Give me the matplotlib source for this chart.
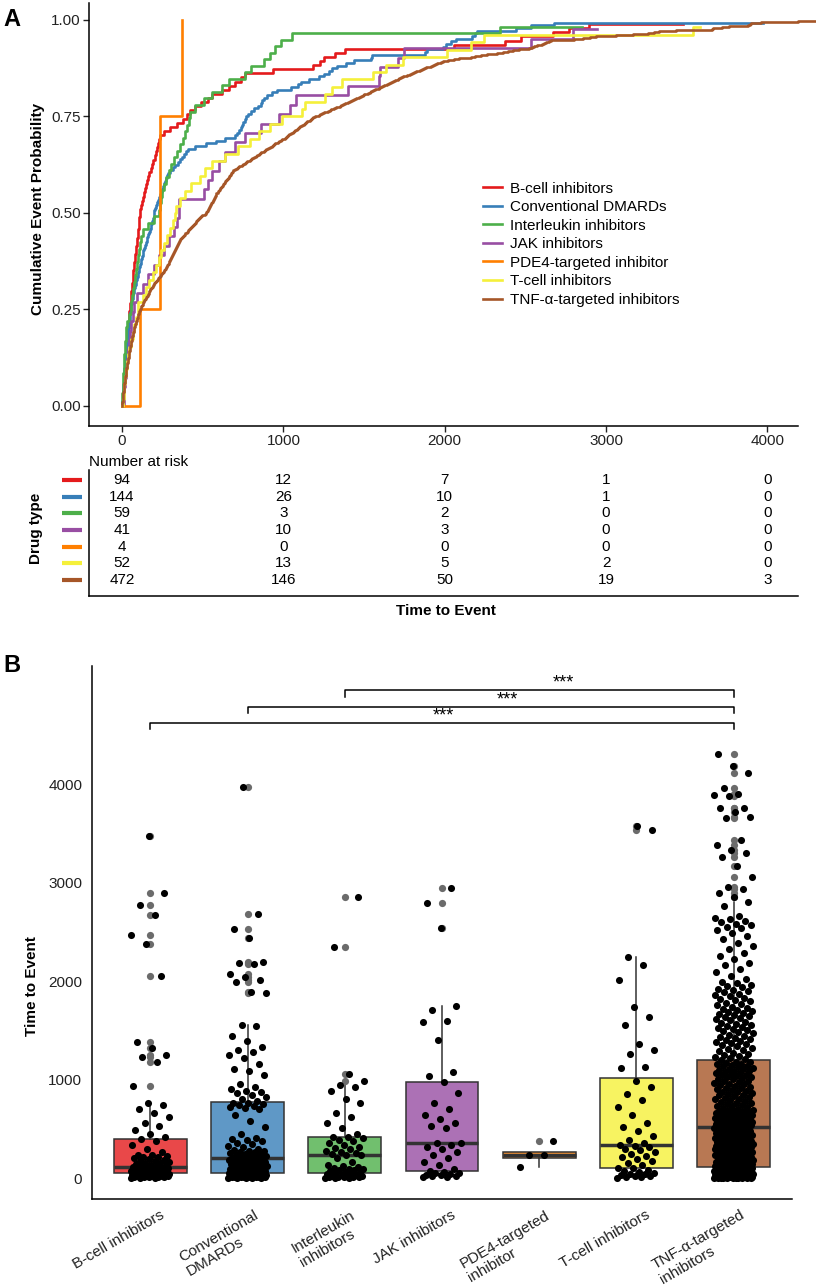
import numpy as np
import matplotlib
matplotlib.use("Agg")
import matplotlib.pyplot as plt
from matplotlib.colors import to_rgba
from matplotlib.transforms import ScaledTranslation, blended_transform_factory

plt.rcParams['font.family'] = ['Liberation Sans', 'DejaVu Sans']

# ---- data ---------------------------------------------------------------
groups = ['B-cell inhibitors', 'Conventional DMARDs', 'Interleukin inhibitors',
          'JAK inhibitors', 'PDE4-targeted inhibitor', 'T-cell inhibitors',
          'TNF-\u03b1-targeted inhibitors']
box_labels = ['B-cell inhibitors', 'Conventional\nDMARDs', 'Interleukin\ninhibitors',
              'JAK inhibitors', 'PDE4-targeted\ninhibitor', 'T-cell inhibitors',
              'TNF-\u03b1-targeted\ninhibitors']
colors = ['#E41A1C', '#377EB8', '#4DAF4A', '#984EA3', '#FF7F00', '#F5F03A', '#A65628']
risk_times = [0, 1000, 2000, 3000, 4000]
last_censored = [True, True, True, True, False, True, True]

bcell = [2, 4, 5, 8, 10, 12, 14, 15, 18, 20, 22, 24, 26, 27, 30, 32, 34, 36, 38, 40,
         42, 44, 46, 48, 50, 53, 55, 58, 60, 63, 66, 68, 70, 73, 76, 79, 82, 85, 88, 90,
         93, 96, 99, 102, 105, 107, 110, 112, 118, 124, 130, 136, 142, 148, 155, 162,
         170, 178, 186, 194, 202, 210, 218, 225, 232, 238, 260, 300, 340, 380,
         400, 420, 450, 490, 530, 560, 620, 660, 700, 740, 760, 936,
         1183, 1225, 1250, 1320, 1385, 2055, 2375, 2470, 2670, 2770, 2895, 3480]

conventional = [1, 2, 3, 4, 5, 6, 7, 8, 9, 10, 12, 13, 14, 15, 17, 18, 20, 21, 23, 24,
                26, 27, 29, 30, 32, 34, 35, 37, 39, 41, 43, 45, 47, 49, 51, 53,
                55, 58, 61, 64, 67, 70, 73, 76, 80, 84, 88, 92, 96, 100, 104, 108, 112,
                116, 120, 124, 128, 132, 137, 142, 147, 152, 157, 162, 167, 172, 177,
                182, 187, 192, 196, 199,
                201, 206, 212, 218, 224, 230, 236, 242, 248, 254, 260, 266, 272, 278, 285,
                300, 315, 330, 345, 360, 372, 385, 398, 410, 450, 520, 580, 640, 700,
                715, 725, 735, 745, 752, 760, 766,
                780, 800, 820, 845, 860, 870, 880, 900, 930, 960,
                1050, 1090, 1110, 1160, 1220, 1250, 1280, 1300, 1330, 1390, 1440, 1545, 1550,
                1880, 1890, 1990,
                2010, 2040, 2070, 2170, 2190, 2200, 2440, 2535, 2680, 3970]

interleukin = [1, 2, 4, 6, 8, 10, 12, 14, 17, 20, 23, 26, 29, 45, 54,
               58, 62, 66, 72, 78, 84, 90, 96, 104, 112, 120, 128, 160, 200, 231,
               235, 240, 250, 262, 275, 290, 305, 320, 340, 360, 375, 390, 405, 412,
               420, 450, 510, 560, 620, 660, 760, 800, 880, 920, 950,
               985, 1056, 2343, 2852]

jak = [10, 15, 20, 25, 30, 35, 40, 50, 55, 65, 75,
       95, 130, 160, 200, 230, 260, 290, 320, 340, 353,
       355, 510, 530, 560, 600, 640, 700, 760, 860, 973,
       1040, 1080, 1400, 1590, 1600, 1709, 1750,
       2537, 2797, 2944]

pde4 = [112, 235, 235, 372]

tcell = [5, 10, 15, 20, 25, 30, 38, 45, 55, 65, 75, 86, 97,
         100, 130, 150, 170, 190, 210, 228, 240, 260, 280, 300, 315, 328,
         335, 360, 390, 430, 480, 515, 560, 640, 720, 794, 850, 920, 990,
         1115, 1132, 1261, 1302, 1363, 1556, 1636, 1743,
         2014, 2165, 2241, 3540, 3580]

tnf = [0, 1, 1, 2, 2, 3, 3, 4, 4, 5, 5, 6, 6, 7, 7, 8, 8, 9, 10, 10,
       11, 11, 12, 13, 13, 14, 14, 15, 16, 16, 17, 18, 18, 19, 20, 20, 21, 22, 22, 23,
       24, 24, 25, 26, 27, 27, 28,
       29, 30, 31, 32, 32, 33, 34, 35, 36, 37, 38, 39, 40, 40, 41, 42, 43, 44, 45, 46,
       47, 48, 49, 50, 51, 52, 53, 54, 55, 56, 57, 58, 59, 60, 61, 62, 63, 64, 65, 66,
       67, 68, 69,
       70, 71, 73, 74, 76, 77, 79, 80, 82, 83, 85, 86, 88, 89, 91, 92, 94, 95, 97, 98,
       100, 101, 103, 104, 106, 107, 109, 110,
       112, 115, 117, 120, 122, 125, 127, 130, 132, 135, 138, 140, 143, 146, 149, 152,
       155, 158, 161, 164, 166, 168, 170, 172,
       175, 179, 183, 186, 190, 194, 197, 201, 205, 208, 212, 216, 220, 223, 227, 231,
       235, 239, 243, 247, 251, 255, 259, 263, 266, 269, 272, 275,
       278, 280, 283, 285, 288, 290, 293, 295, 298, 300, 303, 305, 308, 310, 313, 315,
       318, 320, 323, 325, 328, 330, 333, 335, 338, 340, 343, 345, 348, 350, 353, 355, 358,
       362, 366, 371, 375, 380, 384, 389, 393, 398, 402, 407, 411, 416, 420, 425, 429,
       434, 438, 443, 447, 452, 456, 461, 465, 470, 474, 478, 482,
       490, 498, 506, 513, 520,
       523, 526, 528, 531, 534, 536, 539, 542, 544, 547, 550, 553, 556, 558, 561, 564,
       567, 570, 573, 576, 578, 581, 583, 585,
       589, 593, 596, 600, 604, 608, 611, 615, 619, 623, 626, 630, 634, 637, 641, 645,
       649, 652, 656, 660, 664, 667, 671, 675, 678, 682, 685, 688,
       695, 703, 711, 719, 727, 735, 743, 751, 759, 767, 775, 783, 791, 799, 807, 815,
       823, 831, 839, 847, 855, 863, 871, 879, 887, 895, 903, 911, 919, 927, 935, 943,
       951, 959, 967, 975, 983, 991,
       1003, 1010, 1016, 1023, 1030, 1037, 1044, 1050, 1057, 1064, 1071, 1078, 1085,
       1092, 1099, 1106, 1113, 1120, 1127, 1134, 1141, 1148, 1155, 1162, 1169, 1176, 1183,
       1195, 1206, 1218, 1229, 1241, 1252, 1264, 1275, 1287, 1298,
       1315, 1326, 1337, 1348, 1359, 1370, 1381, 1392, 1403, 1414, 1425, 1436, 1447,
       1458, 1469, 1480, 1491, 1502, 1513, 1524, 1535, 1546, 1557, 1568, 1579, 1590,
       1601, 1612, 1623, 1634, 1645, 1656, 1667, 1678, 1689, 1700, 1709, 1718,
       1730, 1743, 1756, 1769, 1782, 1795, 1808, 1821, 1834, 1847, 1860, 1873, 1886,
       1899, 1912, 1925, 1938, 1951, 1964, 1977, 1990,
       2020, 2055, 2090, 2120, 2160, 2190, 2225, 2260, 2290, 2325, 2360, 2390, 2425,
       2460, 2490, 2520,
       2540, 2555, 2570, 2585, 2600, 2615, 2630, 2645, 2660,
       2760, 2800, 2860, 2900, 2940, 2955,
       3060, 3170, 3262, 3300, 3330, 3380, 3435, 3658, 3665, 3720, 3760, 3765, 3880,
       3890, 3900, 3963,
       4116, 4187, 4309]

data = [bcell, conventional, interleukin, jak, pde4, tcell, tnf]


def cum_event(times, censor_last):
    t = np.sort(np.asarray(times, dtype=float))
    ev = np.ones(len(t), dtype=bool)
    if censor_last:
        ev[-1] = False
    xs, ys, s = [0.0], [0.0], 1.0
    for u in np.unique(t):
        n = np.sum(t >= u)
        d = np.sum(ev[t == u])
        s *= 1 - d / n
        xs.append(u)
        ys.append(1 - s)
    return xs, ys


W, H = 816, 1287
fig = plt.figure(figsize=(W / 100, H / 100), dpi=100)

# ---- A: cumulative event curves ------------------------------------------
ax1 = fig.add_axes([89 / W, 1 - 426 / H, 709 / W, 423 / H])
for i, g in enumerate(groups):
    xs, ys = cum_event(data[i], last_censored[i])
    ax1.step(xs, ys, where='post', color=colors[i], lw=1.9, label=g, clip_on=False)
ax1.set_xlim(-205, 4190)
ax1.set_ylim(-0.052, 1.044)
ax1.set_xticks(risk_times)
ax1.set_yticks([0, 0.25, 0.5, 0.75, 1.0])
ax1.set_yticklabels(['0.00', '0.25', '0.50', '0.75', '1.00'])
for sp in ['top', 'right']:
    ax1.spines[sp].set_visible(False)
for sp in ['left', 'bottom']:
    ax1.spines[sp].set_linewidth(1.1)
ax1.tick_params(labelsize=11, length=4, width=1, pad=2, colors='#222222')
ax1.legend(loc='upper left', bbox_to_anchor=(0.5557, 0.578), frameon=False, fontsize=11,
           handlelength=1.25, handletextpad=0.5, labelspacing=0.3,
           borderpad=0, borderaxespad=0)

# ---- risk table ----------------------------------------------------------
ax2 = fig.add_axes([89 / W, 1 - 596 / H, 709 / W, 126 / H])
ax2.set_xlim(-205, 4190)
ax2.set_ylim(-0.96, 6.6)
ax2.set_xticks([])
ax2.set_yticks([])
for sp in ['top', 'right']:
    ax2.spines[sp].set_visible(False)
for sp in ['left', 'bottom']:
    ax2.spines[sp].set_linewidth(1.1)
tr = blended_transform_factory(ax2.transAxes, ax2.transData)
for i, g in enumerate(groups):
    y = 6 - i
    arr = np.asarray(data[i])
    for t in risk_times:
        ax2.text(t, y, str(int(np.sum(arr >= t))), ha='center', va='center', fontsize=11)
    ax2.plot([-0.0387, -0.0097], [y, y], transform=tr, color=colors[i], lw=3,
             solid_capstyle='butt', clip_on=False)
ax2.text(-205, 7.1, 'Number at risk', ha='left', va='center', fontsize=11, clip_on=False)

# ---- B: box plot with jitter ---------------------------------------------
ax3 = fig.add_axes([92 / W, 1 - 1199 / H, 700 / W, 533 / H])
pos = np.arange(1, len(groups) + 1)
bp = ax3.boxplot(data, positions=pos, widths=0.75, patch_artist=True, showcaps=False,
                 whis=1.5,
                 flierprops=dict(marker='o', markerfacecolor='#6b6b6b',
                                 markeredgecolor='none', markersize=5.2),
                 medianprops=dict(color='#333333', lw=2.5),
                 whiskerprops=dict(color='#333333', lw=1.1),
                 boxprops=dict(edgecolor='#333333', lw=1.1))
for patch, c in zip(bp['boxes'], colors):
    patch.set_facecolor(to_rgba(c, 0.8))
for i, vals in enumerate(data):
    offs = ((np.arange(len(vals)) * 0.6180339887) % 1 - 0.5) * 0.4
    ax3.scatter(pos[i] + offs, vals, s=26, c='black', linewidths=0, zorder=3)

ax3.set_xlim(0.4, 7.6)
ax3.set_ylim(-213, 5203)
ax3.set_yticks([0, 1000, 2000, 3000, 4000])
ax3.set_xticks(pos)
ax3.set_xticklabels(box_labels, rotation=30, ha='right', va='top',
                    rotation_mode='anchor', multialignment='left')
for sp in ['top', 'right']:
    ax3.spines[sp].set_visible(False)
for sp in ['left', 'bottom']:
    ax3.spines[sp].set_linewidth(1.1)
ax3.tick_params(axis='y', labelsize=11, length=0, pad=7, colors='#222222')
ax3.tick_params(axis='x', labelsize=11, length=0, pad=6.5, colors='#222222')
for lab in ax3.get_xticklabels():
    dx = 6 if '\n' in lab.get_text() else 9
    lab.set_transform(lab.get_transform() + ScaledTranslation(dx / 100, 0, fig.dpi_scale_trans))

# significance brackets
comparisons = [(1, 7), (2, 7), (3, 7)]
bracket_y = [4624, 4790, 4959]
star_x = [4.01, 4.67, 5.25]
for (a, b), yb, sx in zip(comparisons, bracket_y, star_x):
    ax3.plot([a, a, b, b], [yb - 66, yb, yb, yb - 66], color='black', lw=1.1, clip_on=False)
    ax3.text(sx, yb + 70, '***', ha='center', va='center', fontsize=13)

# ---- labels --------------------------------------------------------------
fig.text(38 / W, 1 - 209 / H, 'Cumulative Event Probability', rotation=90,
         ha='center', va='center', fontsize=11, fontweight='bold')
fig.text(36 / W, 1 - 528 / H, 'Drug type', rotation=90,
         ha='center', va='center', fontsize=11, fontweight='bold')
fig.text(446 / W, 1 - 611 / H, 'Time to Event', ha='center', va='center',
         fontsize=11, fontweight='bold')
fig.text(32.5 / W, 1 - 986 / H, 'Time to Event', rotation=90,
         ha='center', va='center', fontsize=11, fontweight='bold')
fig.text(12 / W, 1 - 20 / H, 'A', ha='center', va='center', fontsize=17, fontweight='bold')
fig.text(12 / W, 1 - 666 / H, 'B', ha='center', va='center', fontsize=17, fontweight='bold')

fig.savefig('out.png', dpi=100)
